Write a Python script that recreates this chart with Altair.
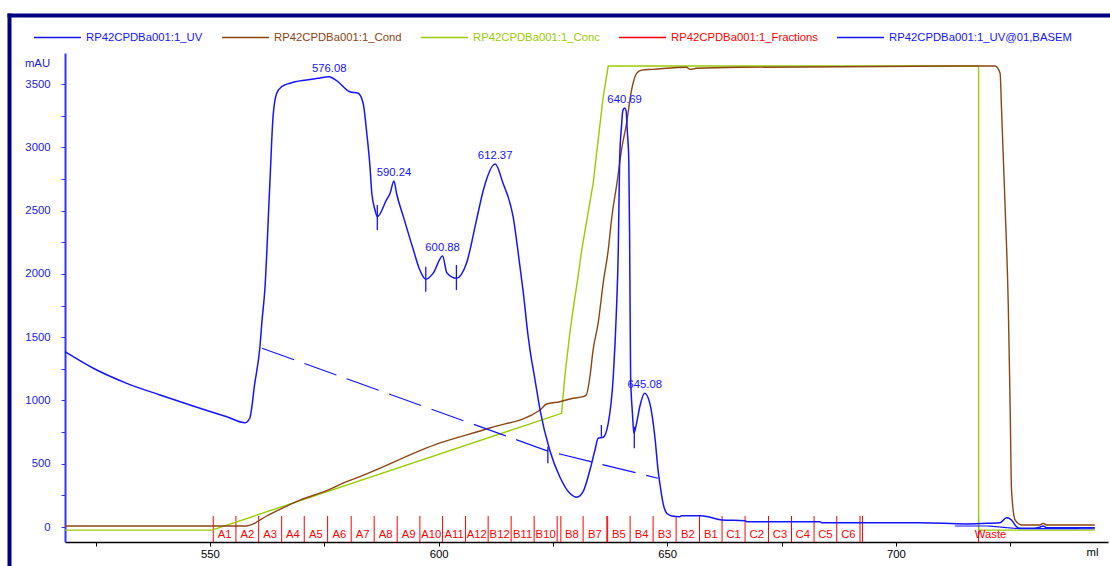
import altair as alt
import pandas as pd

# ---- series names and colours (legend order) ----
series_names = [
    "RP42CPDBa001:1_UV",
    "RP42CPDBa001:1_Cond",
    "RP42CPDBa001:1_Conc",
    "RP42CPDBa001:1_Fractions",
    "RP42CPDBa001:1_UV@01,BASEM",
]
series_colors = ["#1414FF", "#8B4513", "#99CC00", "#FF0000", "#1414FF"]
UV, COND, CONC, FRAC, BASEM = series_names

# ---- UV trace: elution volume (ml) and absorbance (mAU) ----
uv_ml = [518.3, 524.5, 531.8, 539.1, 546.3, 553.7, 557.7, 558.7, 559.8, 560.9,
         561.4, 562.0, 563.1, 563.8, 564.6, 565.7, 567.5, 571.1, 573.5, 576.08,
         577.7, 580.6, 582.4, 583.5, 584.3, 585.0, 585.4, 586.1, 586.6, 588.6,
         589.4, 590.24, 590.8, 592.3, 594.5, 595.9, 597.2, 598.8, 600.88, 601.8,
         603.9, 606.1, 608.3, 609.8, 612.37, 614.1, 616.3, 617.8, 618.5, 619.6,
         620.0, 621.1, 622.2, 624.3, 626.5, 628.7, 630.2, 631.6, 633.1, 634.2,
         634.9, 636.0, 637.1, 638.2, 638.9, 639.3, 639.6, 640.0, 640.3, 640.69,
         641.0, 641.3, 641.6, 641.8, 642.0, 642.4, 642.7, 643.3, 644.0, 645.08,
         646.2, 647.3, 648.0, 648.5, 649.1, 649.9, 651.0, 652.8, 653.1, 657.2,
         659.4, 661.9, 667.0, 667.4, 683.4, 683.8, 705.3, 715.5, 720.2, 722.8,
         724.2, 725.3, 726.4, 727.1, 730.0, 731.5, 732.2, 733.0, 743.5]
uv_mau = [1385, 1254, 1135, 1043, 956, 871, 824, 859, 1135, 1412,
          1635, 1872, 2715, 3242, 3427, 3479, 3506, 3532, 3545, 3558,
          3526, 3439, 3427, 3348, 3111, 2847, 2637, 2505, 2452, 2584,
          2637, 2734, 2637, 2452, 2188, 2030, 1957, 2004, 2141, 2009,
          1965, 2083, 2426, 2663, 2868, 2715, 2452, 2057, 1860, 1503,
          1398, 1161, 924, 608, 397, 266, 235, 279, 450, 608,
          701, 709, 819, 1187, 1714, 2188, 2900, 3163, 3290, 3310,
          3290, 3111, 2900, 2188, 1187, 898, 740, 819, 950, 1056,
          977, 713, 450, 318, 187, 108, 87, 81, 89, 89,
          77, 55, 50, 42, 42, 34, 34, 24, 29, 34,
          73, 55, 2, -10, -10, -2, 8, -5, -5]

# ---- conductivity trace (drawn on the mAU scale) ----
cond_ml = [518.3, 558.0, 559.5, 560.9, 562.4, 565.3, 569.7, 575.5, 579.9, 582.8,
           600.3, 611.2, 622.2, 623.6, 626.5, 629.4, 631.6, 632.3, 633.1, 633.8,
           634.9, 636.0, 637.1, 637.9, 639.0, 640.0, 641.1, 642.2, 643.3, 644.4,
           646.9, 654.2, 655.0, 656.4, 665.9, 721.7, 722.8, 723.1, 723.9, 724.6,
           725.0, 725.3, 726.1, 727.5, 731.5, 732.2, 733.0, 743.5]
cond_val = [8, 8, 24, 55, 87, 140, 213, 287, 358, 398,
            664, 782, 924, 972, 990, 1017, 1030, 1043, 1188, 1401,
            1611, 1927, 2188, 2452, 2715, 2978, 3188, 3452, 3584, 3610,
            3616, 3632, 3616, 3624, 3632, 3642, 3585, 3318, 2528, 1738,
            948, 292, 55, 16, 16, 29, 16, 16]

# ---- concentration (gradient) trace ----
conc_ml = [518.3, 550.4, 626.9, 627.6, 628.7, 629.4, 630.5, 631.3, 633.8, 636.0,
           637.1, 718.1, 718.1, 743.5]
conc_val = [-25, -25, 898, 1187, 1530, 1714, 1978, 2188, 2715, 3398,
            3642, 3642, -25, -25]

# ---- integration baseline ----
basem_ml = [561.4, 623.9, 648.0, 712.9, 720.2, 726.4, 743.5]
basem_mau = [1412, 600, 385, 8, 8, -12, -14]
basem_part = ["peak", "peak", "peak", "tail", "tail", "tail", "tail"]

# ---- peak boundary markers ----
drop_ml = [586.6, 597.2, 603.9, 623.9, 635.6, 642.8]
drop_top = [2544, 2057, 2070, 634, 806, 792]
drop_bottom = [2347, 1859, 1872, 503, 713, 622]

# ---- labelled peak maxima (ml) ----
peak_ml = [576.08, 590.24, 600.88, 612.37, 640.69, 645.08]

# ---- collected fractions ----
frac_names = ["A1", "A2", "A3", "A4", "A5", "A6", "A7", "A8", "A9", "A10",
              "A11", "A12", "B12", "B11", "B10", "B9", "B8", "B7", "B6", "B5",
              "B4", "B3", "B2", "B1", "C1", "C2", "C3", "C4", "C5", "C6", "C7"]
frac_start = [550.72, 555.68, 560.65, 565.68, 570.62, 575.73, 580.89, 585.92, 590.95, 595.91,
              600.87, 605.90, 610.84, 615.87, 620.90, 625.93, 626.74, 631.61, 636.80, 636.98,
              641.89, 646.92, 651.95, 657.06, 662.00, 667.03, 672.15, 677.18, 682.12, 687.08,
              692.17]
frac_end = frac_start[1:] + [692.70]
waste_name = "Waste"
waste_start = 718.1

# ---- axis ticks ----
x_ticks = [525, 550, 575, 600, 625, 650, 675, 700, 725]
y_ticks = [0, 250, 500, 750, 1000, 1250, 1500, 1750, 2000, 2250,
           2500, 2750, 3000, 3250, 3500]


def trace(xs, ys, name):
    df = pd.DataFrame({"ml": xs, "value": ys, "series": name})
    df["idx"] = range(len(df))
    return df


uv_df = trace(uv_ml, uv_mau, UV)
cond_df = trace(cond_ml, cond_val, COND)
conc_df = trace(conc_ml, conc_val, CONC)
basem_df = trace(basem_ml, basem_mau, BASEM)
basem_df["part"] = basem_part
drop_df = pd.DataFrame({"ml": drop_ml, "top": drop_top, "bottom": drop_bottom})
peak_df = pd.DataFrame({"ml": peak_ml}).merge(uv_df[["ml", "value"]], on="ml")
frac_df = pd.DataFrame({"name": frac_names, "start": frac_start, "end": frac_end})
frac_df["mid"] = (frac_df["start"] + frac_df["end"]) / 2
frac_df["width"] = frac_df["end"] - frac_df["start"]
marks_df = pd.DataFrame({"ml": frac_start + [frac_end[-1], waste_start]})
waste_df = pd.DataFrame({"ml": [waste_start], "name": [waste_name]})

W, H = 1043, 489
FONT = "Liberation Sans"
FS = 11.3
AXIS_BLUE = "#2020E0"

x_scale = alt.Scale(domain=[518.3, 746.4], nice=False, zero=False)
y_scale = alt.Scale(domain=[-118.5, 3745], nice=False, zero=False)
color_scale = alt.Scale(domain=series_names, range=series_colors)

x_axis = alt.Axis(
    title="ml", values=x_ticks, format="d",
    labelExpr="datum.value % 50 == 0 ? datum.label : ''",
    grid=False, domainColor="black", domainWidth=1.5, tickColor="black", tickSize=4,
    labelColor="black", labelFont=FONT, labelFontSize=FS, labelPadding=2,
    labelFlush=False, labelOverlap=False,
    titleFont=FONT, titleFontSize=FS, titleFontWeight="normal", titleColor="black",
    titleX=1027, titleY=10, titleAlign="center", titleBaseline="middle",
)
y_axis = alt.Axis(
    title="mAU", values=y_ticks, format="d",
    labelExpr="datum.value % 500 == 0 ? datum.label : ''",
    grid=False, domainColor="#3333FF", domainWidth=2, tickColor="#3333FF", tickSize=4,
    labelColor=AXIS_BLUE, labelFont=FONT, labelFontSize=FS, labelPadding=11,
    labelOverlap=False,
    titleFont=FONT, titleFontSize=FS, titleFontWeight="normal", titleColor=AXIS_BLUE,
    titleAngle=0, titleX=-28, titleY=10, titleAlign="center", titleBaseline="middle",
)
legend = alt.Legend(
    orient="none", legendX=-32, legendY=-40, direction="horizontal", columns=5,
    title=None, symbolType="stroke", symbolSize=2209, symbolStrokeWidth=1.5,
    labelFont=FONT, labelFontSize=FS, labelOffset=4, columnPadding=16,
    labelLimit=400, padding=0,
    labelColor=alt.ExprRef(expr="scale('color', datum.value)"),
)

X = alt.X("ml:Q", scale=x_scale, axis=x_axis)
Y = alt.Y("value:Q", scale=y_scale, axis=y_axis)
C = alt.Color("series:N", scale=color_scale, legend=legend)
O = alt.Order("idx:Q")

# outer frame of the report page
frame_df = pd.DataFrame({"k": [0]})
frame_top = alt.Chart(frame_df).mark_rule(color="#000080", strokeWidth=4).encode(
    x=alt.value(-57.5), x2=alt.value(1045), y=alt.value(-37.5))
frame_left = alt.Chart(frame_df).mark_rule(color="#000080", strokeWidth=4).encode(
    x=alt.value(-55.5), y=alt.value(-39.5), y2=alt.value(513))

conc = alt.Chart(conc_df).mark_line(strokeWidth=1.4).encode(x=X, y=Y, color=C, order=O)
cond = alt.Chart(cond_df).mark_line(strokeWidth=1.4, interpolate="monotone").encode(
    x=X, y=Y, color=C, order=O)

frac_lines = alt.Chart(marks_df).mark_rule(color="#FF0000", strokeWidth=1).encode(
    x=X, y=alt.value(H - 26), y2=alt.value(H))
frac_text = alt.Chart(frac_df).transform_filter("datum.width > 2").mark_text(
    font=FONT, fontSize=FS, color="#FF0000", align="center", baseline="middle"
).encode(x=alt.X("mid:Q", scale=x_scale, axis=x_axis), y=alt.value(H - 7), text="name:N")
waste_text = alt.Chart(waste_df).mark_text(
    font=FONT, fontSize=FS, color="#FF0000", align="center", baseline="middle", dx=12
).encode(x=X, y=alt.value(H - 7), text="name:N")

basem = alt.Chart(basem_df).mark_line(strokeWidth=1.2).encode(
    x=X, y=Y, color=C, order=O, detail="part:N",
    strokeDash=alt.StrokeDash("part:N", scale=alt.Scale(domain=["peak", "tail"],
                                                        range=[[34, 11], [1, 0]]),
                              legend=None))
drops = alt.Chart(drop_df).mark_rule(color="#1414FF", strokeWidth=1.3).encode(
    x=X, y=alt.Y("top:Q", scale=y_scale, axis=y_axis), y2="bottom:Q")
uv = alt.Chart(uv_df).mark_line(strokeWidth=1.5, interpolate="monotone").encode(
    x=X, y=Y, color=C, order=O)
peaks = alt.Chart(peak_df).mark_text(
    font=FONT, fontSize=FS, color="#1414FF", align="center", baseline="bottom", dy=-3
).encode(x=X, y=Y, text=alt.Text("ml:Q", format=".2f"))

chart = alt.layer(
    frame_top, frame_left, frac_lines, conc, cond, frac_text, waste_text,
    basem, drops, uv, peaks,
).properties(
    width=W, height=H,
    autosize=alt.AutoSizeParams(type="none"),
    padding={"left": 65, "top": 53, "right": 2, "bottom": 24},
    background="white",
).configure_view(stroke=None)

chart.save("out.html", embed_options={"renderer": "svg", "actions": False})
